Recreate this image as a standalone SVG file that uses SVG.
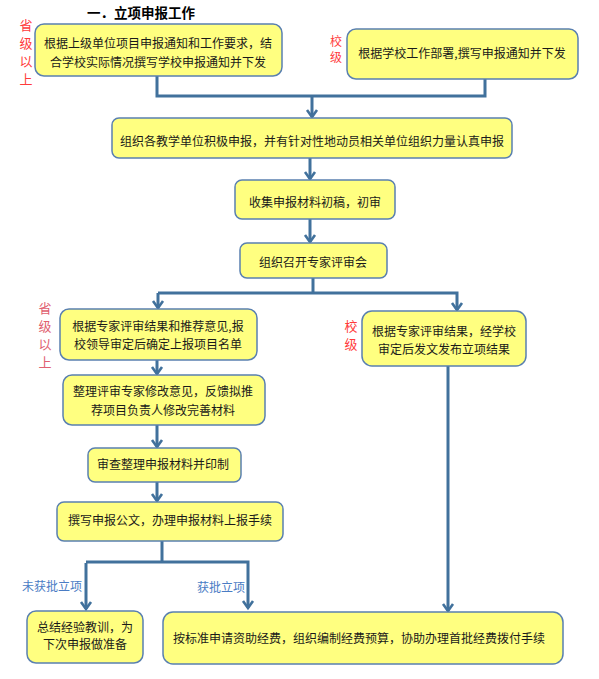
<svg xmlns="http://www.w3.org/2000/svg" width="599" height="679" viewBox="0 0 599 679">
<style>
.box{fill:#ffff80;stroke:#5a80b0;stroke-width:1.5}
.t{font-family:"Noto Sans CJK SC","Noto Sans",sans-serif;font-size:12px;fill:#1a1a1a;text-anchor:middle}
.red{font-family:"Noto Sans CJK SC",sans-serif;font-size:13px;fill:#ff3b3b;text-anchor:middle}
.red2{font-family:"Noto Sans CJK SC",sans-serif;font-size:13px;fill:#e06070;text-anchor:middle}
.blue{font-family:"Noto Sans CJK SC",sans-serif;font-size:12px;fill:#4a7cc4}
.ln{fill:none;stroke:#41719c;stroke-width:3}
.ar{fill:none;stroke:#41719c;stroke-width:3;marker-end:url(#ah)}
</style>
<defs>
<marker id="ah" markerUnits="userSpaceOnUse" markerWidth="14" markerHeight="14" refX="10" refY="7" orient="auto">
<path d="M3,2 L10,7 L3,12" fill="none" stroke="#41719c" stroke-width="2.6"/>
</marker>
</defs>
<rect width="599" height="679" fill="#ffffff"/>
<text x="141" y="18" style="font-family:'Noto Sans CJK SC',sans-serif;font-size:13.5px;font-weight:bold;text-anchor:middle">一．立项申报工作</text>

<g id="labels">
<text class="red" x="26" y="30">省</text><text class="red" x="26" y="48">级</text><text class="red" x="26" y="66">以</text><text class="red" x="26" y="84">上</text>
<text class="red" x="336" y="46" style="font-size:12px">校</text><text class="red" x="336" y="62" style="font-size:12px">级</text>
<text class="red2" x="45" y="313">省</text><text class="red2" x="45" y="331">级</text><text class="red2" x="45" y="349">以</text><text class="red2" x="45" y="367">上</text>
<text class="red" x="351" y="331">校</text><text class="red" x="351" y="349">级</text>
<text class="blue" x="22" y="591">未获批立项</text>
<text class="blue" x="197" y="592">获批立项</text>
</g>

<g id="connectors">
<polyline class="ln" points="157,76 157,96 485,96 485,79"/>
<line class="ar" x1="312" y1="96" x2="312" y2="117"/>
<line class="ar" x1="310" y1="158" x2="310" y2="179"/>
<line class="ar" x1="310" y1="219" x2="310" y2="242"/>
<polyline class="ln" points="313,278 313,293"/>
<polyline class="ar" points="158,293 457,293 457,310"/>
<line class="ar" x1="158" y1="293" x2="158" y2="308"/>
<line class="ar" x1="157" y1="360" x2="157" y2="374"/>
<line class="ar" x1="157" y1="425" x2="157" y2="447"/>
<line class="ar" x1="157" y1="482" x2="157" y2="501"/>
<polyline class="ln" points="162,541 162,562"/>
<polyline class="ar" points="86,562 248,562 248,608"/>
<polyline class="ar" points="86,563 86,609"/>
<line class="ar" x1="448" y1="366" x2="448" y2="611"/>
</g>

<g id="n1"><rect class="box" x="35" y="24" width="247" height="52" rx="9"/>
<text class="t" x="158" y="48">根据上级单位项目申报通知和工作要求，结</text>
<text class="t" x="158" y="67">合学校实际情况撰写学校申报通知并下发</text></g>
<g id="n2"><rect class="box" x="347" y="29" width="231" height="50" rx="9"/>
<text class="t" x="462" y="58">根据学校工作部署,撰写申报通知并下发</text></g>
<g id="n3"><rect class="box" x="112" y="118" width="400" height="40" rx="7"/>
<text class="t" x="312" y="146">组织各教学单位积极申报，并有针对性地动员相关单位组织力量认真申报</text></g>
<g id="n4"><rect class="box" x="235" y="180" width="160" height="39" rx="7"/>
<text class="t" x="315" y="207">收集申报材料初稿，初审</text></g>
<g id="n5"><rect class="box" x="240" y="243" width="147" height="35" rx="7"/>
<text class="t" x="313" y="267">组织召开专家评审会</text></g>
<g id="n6"><rect class="box" x="60" y="309" width="197" height="51" rx="9"/>
<text class="t" x="158" y="331">根据专家评审结果和推荐意见,报</text>
<text class="t" x="158" y="349">校领导审定后确定上报项目名单</text></g>
<g id="n7"><rect class="box" x="362" y="311" width="164" height="55" rx="10"/>
<text class="t" x="444" y="336">根据专家评审结果，经学校</text>
<text class="t" x="444" y="354">审定后发文发布立项结果</text></g>
<g id="n8"><rect class="box" x="63" y="375" width="202" height="50" rx="9"/>
<text class="t" x="163" y="396">整理评审专家修改意见，反馈拟推</text>
<text class="t" x="163" y="415">荐项目负责人修改完善材料</text></g>
<g id="n9"><rect class="box" x="88" y="448" width="153" height="34" rx="7"/>
<text class="t" x="163" y="469">审查整理申报材料并印制</text></g>
<g id="n10"><rect class="box" x="57" y="502" width="226" height="39" rx="7"/>
<text class="t" x="170" y="525">撰写申报公文，办理申报材料上报手续</text></g>
<g id="n11"><rect class="box" x="27" y="611" width="116" height="52" rx="9"/>
<text class="t" x="85" y="632">总结经验教训，为</text>
<text class="t" x="85" y="649">下次申报做准备</text></g>
<g id="n12"><rect class="box" x="163" y="612" width="400" height="52" rx="10"/>
<text class="t" x="359" y="643">按标准申请资助经费，组织编制经费预算，协助办理首批经费拨付手续</text></g>
</svg>
